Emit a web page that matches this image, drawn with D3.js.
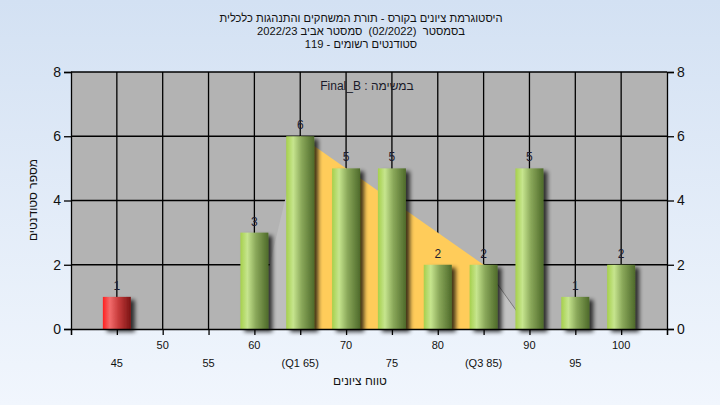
<!DOCTYPE html>
<html><head><meta charset="utf-8">
<script src="https://cdn.jsdelivr.net/npm/d3@7"></script>
<style>html,body{margin:0;padding:0;overflow:hidden}svg{display:block;font-family:"Liberation Sans",Arial,sans-serif}.pre{white-space:pre}</style>
</head><body>
<svg id="c" width="720" height="405"></svg>
<script>
const titleLines = ["היסטוגרמת ציונים בקורס - תורת המשחקים והתנהגות כלכלית", "בסמסטר  (02/2022)  סמסטר אביב 2022/23", "סטודנטים רשומים - 119"];
const taskLabel = "במשימה : Final_B";
const yTitle = "מספר סטודנטים";
const xTitle = "טווח ציונים";
const grades = [45, 50, 55, 60, 65, 70, 75, 80, 85, 90, 95, 100];
const counts = [1, 0, 0, 3, 6, 5, 5, 2, 2, 5, 1, 2];
const failing = [true, false, false, false, false, false, false, false, false, false, false, false];
const tickLabels = ["45", "50", "55", "60", "(Q1 65)", "70", "75", "80", "(Q3 85)", "90", "95", "100"];
const yTicks = [0, 2, 4, 6, 8];
const q1 = 65, q3 = 85, whiskerLo = 60, whiskerHi = 90;

const svg = d3.select("#c");
const W = 720, H = 405;
const m = {l: 71, r: 667, t: 72, b: 329};
const x = d3.scaleLinear().domain([40, 105]).range([m.l, m.r]);
const y = d3.scaleLinear().domain([0, 8]).range([m.b, m.t]);
const countAt = g => counts[grades.indexOf(g)];

const defs = svg.append("defs");
const bg = defs.append("linearGradient").attr("id", "bg").attr("x1", 0).attr("y1", 0).attr("x2", 0).attr("y2", 1);
bg.append("stop").attr("offset", 0).attr("stop-color", "#d3e1f3");
bg.append("stop").attr("offset", 1).attr("stop-color", "#f1f6fd");
const gg = defs.append("linearGradient").attr("id", "green").attr("x1", 0).attr("x2", 1).attr("y1", 0).attr("y2", 0);
[[0, "#a6d04c"], [0.25, "#c6e58e"], [0.55, "#8aa85a"], [1, "#4e6a2a"]].forEach(s => gg.append("stop").attr("offset", s[0]).attr("stop-color", s[1]));
const rg = defs.append("linearGradient").attr("id", "red").attr("x1", 0).attr("x2", 1).attr("y1", 0).attr("y2", 0);
[[0, "#ff2020"], [0.25, "#f26c6c"], [0.55, "#c83c3c"], [1, "#7a1414"]].forEach(s => rg.append("stop").attr("offset", s[0]).attr("stop-color", s[1]));
const f = defs.append("filter").attr("id", "sh").attr("x", "-30%").attr("y", "-30%").attr("width", "180%").attr("height", "160%");
f.append("feGaussianBlur").attr("in", "SourceAlpha").attr("stdDeviation", 2.2);
f.append("feOffset").attr("dx", 4).attr("dy", 3).attr("result", "o");
f.append("feComponentTransfer").append("feFuncA").attr("type", "linear").attr("slope", 0.75);
const mg = f.append("feMerge"); mg.append("feMergeNode"); mg.append("feMergeNode").attr("in", "SourceGraphic");

svg.append("rect").attr("width", W).attr("height", H).attr("fill", "url(#bg)");
svg.append("rect").attr("x", m.l).attr("y", m.t).attr("width", m.r - m.l).attr("height", m.b - m.t).attr("fill", "#b3b3b3");

// grid
const g = svg.append("g");
g.selectAll(".vg").data(grades).join("line").attr("x1", d => x(d)).attr("x2", d => x(d)).attr("y1", m.t).attr("y2", m.b).attr("stroke", "#000").attr("stroke-width", 1.3);
g.selectAll(".hg").data(yTicks.slice(1)).join("line").attr("x1", m.l).attr("x2", m.r).attr("y1", d => y(d)).attr("y2", d => y(d)).attr("stroke", "#000").attr("stroke-width", 1.3);

// whisker / quartile areas
const line = d3.line().x(d => x(d[0])).y(d => y(d[1]));
svg.append("path").attr("d", line([[whiskerLo, 0], [q1, countAt(q1)], [q1, 0]]) + "Z").attr("fill", "#bebebe");
svg.append("path").attr("d", line([[q3, countAt(q3)], [whiskerHi, 0], [q3, 0]]) + "Z").attr("fill", "#c3c3c3");
svg.append("path").attr("d", line([[q3, countAt(q3)], [whiskerHi, 0]])).attr("stroke", "#7a7a7a").attr("fill", "none");
svg.append("path").attr("d", line([[q1, 0], [q1, countAt(q1)], [q3, countAt(q3)], [q3, 0]]) + "Z").attr("fill", "#ffcc5a");

// bars
const bw = 28;
const data = grades.map((gr, i) => ({g: gr, c: counts[i], fail: failing[i]})).filter(d => d.c > 0);
svg.append("g").selectAll("rect").data(data).join("rect")
  .attr("x", d => x(d.g) - bw / 2).attr("y", d => y(d.c)).attr("width", bw).attr("height", d => y(0) - y(d.c))
  .attr("fill", d => d.fail ? "url(#red)" : "url(#green)").attr("filter", "url(#sh)");
svg.append("g").selectAll("text").data(data).join("text")
  .attr("x", d => x(d.g)).attr("y", d => y(d.c) - 7).attr("text-anchor", "middle")
  .attr("font-size", 12).attr("fill", "#1c1c30").text(d => d.c);

// axes
const axL = d3.axisLeft(y).tickValues(yTicks).tickSize(7).tickPadding(3);
const axR = d3.axisRight(y).tickValues(yTicks).tickSize(7).tickPadding(3);
const styleAx = sel => { sel.select(".domain").attr("stroke", "#000").attr("stroke-width", 1.3); sel.selectAll(".tick line").attr("stroke", "#000").attr("stroke-width", 1.3); sel.selectAll("text").attr("font-size", 14).attr("fill", "#111").attr("font-family", "Liberation Sans, Arial, sans-serif"); };
svg.append("g").attr("transform", `translate(${m.l},0)`).call(axL).call(styleAx);
svg.append("g").attr("transform", `translate(${m.r},0)`).call(axR).call(styleAx);
const axB = d3.axisBottom(x).tickValues([40].concat(grades, [105])).tickSize(6).tickFormat("");
svg.append("g").attr("transform", `translate(0,${m.b})`).call(axB).call(sel => { sel.select(".domain").attr("stroke", "#000").attr("stroke-width", 1.3); sel.selectAll(".tick line").attr("stroke", "#000").attr("stroke-width", 1.3); });

svg.append("g").selectAll("text").data(grades).join("text")
  .attr("x", d => x(d)).attr("y", (d, i) => i % 2 === 1 ? 349 : 367).attr("text-anchor", "middle")
  .attr("font-size", 11).attr("fill", "#111").text((d, i) => tickLabels[i]);

// titles
svg.append("g").selectAll("text").data(titleLines).join("text").attr("class", "pre")
  .attr("x", 361).attr("y", (d, i) => 22 + i * 13).attr("text-anchor", "middle").attr("direction", "rtl")
  .attr("font-size", 11.2).attr("fill", "#111").text(d => d);
svg.append("text").attr("x", 367).attr("y", 90).attr("text-anchor", "middle").attr("direction", "rtl")
  .attr("font-size", 12).attr("fill", "#1a1a2a").text(taskLabel);
svg.append("text").attr("transform", "translate(37,200) rotate(-90)").attr("text-anchor", "middle").attr("direction", "rtl")
  .attr("font-size", 12).attr("fill", "#111").text(yTitle);
svg.append("text").attr("x", 360).attr("y", 385).attr("text-anchor", "middle").attr("direction", "rtl")
  .attr("font-size", 12).attr("fill", "#111").text(xTitle);
</script>
</body></html>
